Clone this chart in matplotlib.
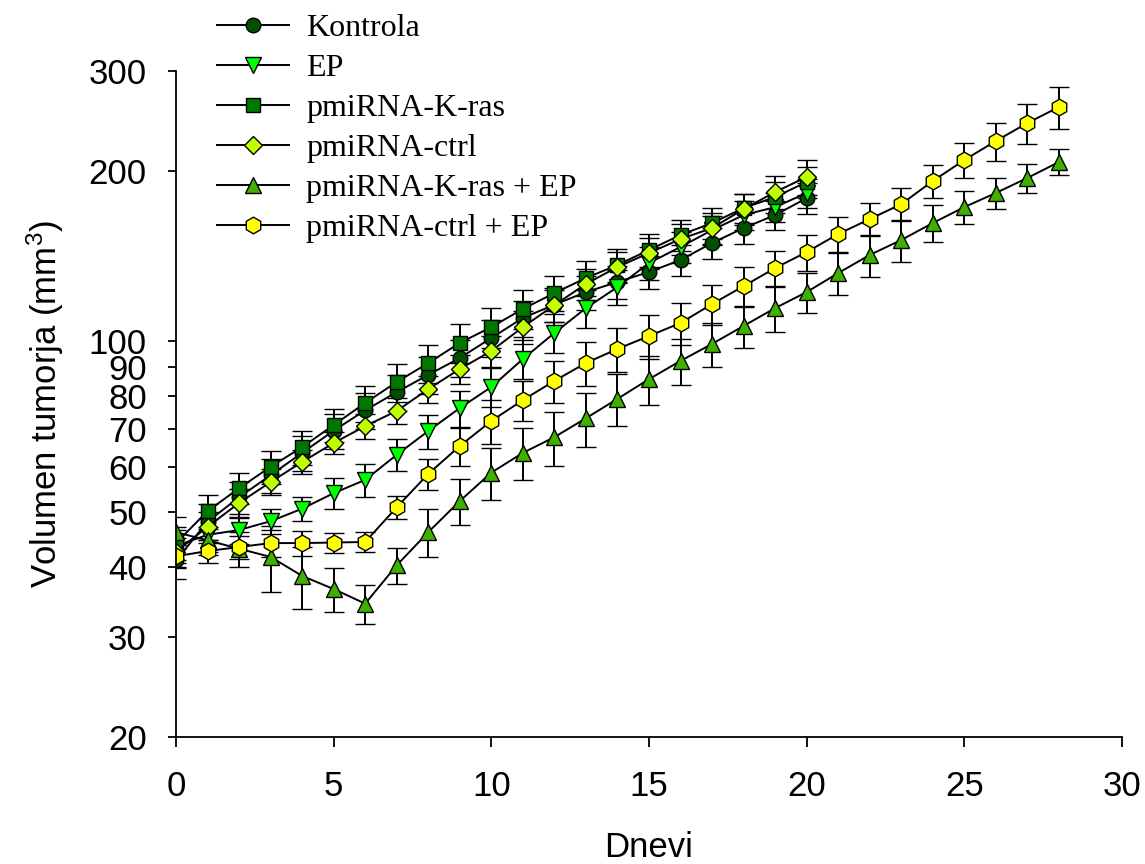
import matplotlib
matplotlib.use("Agg")
import matplotlib.pyplot as plt
from matplotlib.lines import Line2D
from matplotlib.ticker import FixedLocator, FixedFormatter, NullLocator

plt.rcParams["mathtext.fontset"] = "custom"
plt.rcParams["mathtext.rm"] = "Liberation Sans"
plt.rcParams["mathtext.it"] = "Liberation Sans"

days20 = list(range(0, 21))
days28 = list(range(0, 29))

kontrola = [41.0, 48.0, 53.0, 58.0, 63.5, 69.5, 75.5, 81.3, 87.2, 93.4, 101.3,
            109.9, 116.0, 122.1, 127.2, 132.5, 139.1, 149.1, 158.4, 167.0, 178.9]
kontrola_err = [3.0, 3.5, 3.5, 4.0, 4.5, 5.0, 5.5, 6.0, 6.5, 7.0, 7.5,
                8.0, 8.0, 8.5, 8.5, 9.0, 9.0, 9.5, 10.0, 10.0, 11.0]

ep = [43.5, 45.5, 46.4, 48.1, 50.6, 53.9, 56.9, 63.0, 69.4, 76.2, 83.0,
      93.0, 103.4, 114.4, 124.6, 137.4, 146.7, 157.1, 167.0, 172.5, 182.7]
ep_err = [3.0, 3.0, 2.5, 2.5, 2.5, 3.4, 3.9, 4.1, 4.8, 5.6, 6.5,
          7.4, 8.2, 8.8, 8.8, 9.0, 9.5, 9.5, 10.0, 10.0, 11.0]

kras = [44.0, 50.1, 55.0, 60.0, 65.0, 71.1, 77.8, 84.7, 91.5, 99.3, 105.9,
        114.0, 121.6, 129.3, 136.3, 144.9, 154.0, 161.7, 171.8, 179.7, 191.0]
kras_err = [3.0, 3.5, 3.5, 4.0, 4.5, 4.8, 5.7, 6.5, 7.1, 7.8, 8.6,
            8.9, 8.7, 9.0, 9.0, 9.5, 9.5, 10.0, 10.0, 11.0, 12.0]

ctrl = [42.5, 47.0, 51.8, 56.4, 61.2, 66.1, 70.8, 75.3, 82.3, 89.3, 96.1,
        105.9, 115.8, 126.2, 135.2, 143.1, 151.5, 158.4, 171.1, 183.4, 195.0]
ctrl_err = [2.5, 3.0, 3.0, 3.0, 3.0, 3.0, 3.7, 4.0, 4.4, 5.2, 6.0,
            7.0, 7.5, 8.0, 8.5, 9.0, 9.5, 10.0, 11.0, 12.0, 14.0]

kras_ep = [46.0, 44.5, 43.0, 41.6, 38.5, 36.5, 34.4, 40.2, 46.0, 52.2, 58.6,
           63.5, 67.7, 73.1, 79.1, 85.7, 92.3, 98.9, 106.4, 114.4, 122.1,
           131.9, 142.0, 150.9, 161.7, 172.5, 182.7, 194.2, 207.2]
kras_ep_err = [3.0, 2.5, 3.0, 5.5, 4.8, 3.3, 2.7, 3.0, 4.5, 4.9, 6.2,
               6.7, 7.4, 8.0, 8.4, 8.4, 8.6, 8.7, 9.2, 10.5, 9.9,
               11.3, 12.1, 12.9, 12.3, 11.5, 11.4, 11.4, 11.0]

ctrl_ep = [41.7, 42.6, 43.3, 44.0, 44.0, 44.1, 44.2, 50.9, 58.3, 65.3, 72.3,
           78.7, 85.1, 91.5, 96.9, 102.1, 107.7, 116.3, 125.1, 134.6, 143.7,
           154.6, 164.3, 174.6, 191.8, 208.9, 225.7, 242.8, 259.1]
ctrl_ep_err = [2.0, 2.0, 2.0, 2.5, 2.2, 1.8, 1.8, 2.3, 3.6, 5.0, 6.5,
               6.4, 7.3, 8.1, 8.5, 9.0, 9.1, 9.4, 10.0, 9.6, 10.5,
               11.0, 11.1, 11.9, 13.0, 15.1, 17.3, 19.7, 22.0]

labels = ["Kontrola", "EP", "pmiRNA-K-ras", "pmiRNA-ctrl",
          "pmiRNA-K-ras + EP", "pmiRNA-ctrl + EP"]
xticks = [0, 5, 10, 15, 20, 25, 30]
yticks = [20, 30, 40, 50, 60, 70, 80, 90, 100, 200, 300]

series = [
    (days20, kontrola, kontrola_err, "o", "#005000", 10.5),
    (days20, ep, ep_err, "v", "#00ff00", 11.5),
    (days20, kras, kras_err, "s", "#007800", 10),
    (days20, ctrl, ctrl_err, "D", "#c0ff00", 9.5),
    (days28, kras_ep, kras_ep_err, "^", "#40b000", 11.5),
    (days28, ctrl_ep, ctrl_ep_err, "h", "#ffff00", 12),
]

fig = plt.figure(figsize=(11.45, 8.64), dpi=100)
ax = fig.add_axes([176 / 1145, 1 - 737 / 864, (1122 - 176) / 1145, (737 - 71) / 864])

handles = []
for (x, y, e, m, c, ms), lab in zip(series, labels):
    ax.errorbar(x, y, yerr=e, fmt="-" + m, color="black", ecolor="black",
                elinewidth=1.4, capsize=7.5, capthick=1.4, lw=1.4,
                marker=m, markersize=ms, markerfacecolor=c,
                markeredgecolor="black", markeredgewidth=1.0)
    handles.append(Line2D([], [], color="black", lw=1.4, marker=m,
                          markersize=ms, markerfacecolor=c,
                          markeredgecolor="black", markeredgewidth=1.0))

ax.set_yscale("log")
ax.set_ylim(20, 300)
ax.set_xlim(0, 30)
ax.yaxis.set_major_locator(FixedLocator(yticks))
ax.yaxis.set_major_formatter(FixedFormatter([str(t) for t in yticks]))
ax.yaxis.set_minor_locator(NullLocator())
ax.set_xticks(xticks)
ax.set_xticklabels([str(t) for t in xticks])

for s in ["top", "right"]:
    ax.spines[s].set_visible(False)
for s in ["left", "bottom"]:
    ax.spines[s].set_linewidth(1.3)

ax.tick_params(axis="both", direction="out", width=1.3, labelsize=25)
ax.tick_params(axis="y", length=6, pad=15)
ax.tick_params(axis="x", length=7, pad=17)
for t in ax.get_xticklabels() + ax.get_yticklabels():
    t.set_fontfamily("Liberation Sans")

ax.set_xlabel("Dnevi", fontsize=25, fontfamily="Liberation Sans", labelpad=20)
ax.set_ylabel("Volumen tumorja (mm$^3$)", fontsize=25,
              fontfamily="Liberation Sans", labelpad=16)

leg = fig.legend(handles=handles, labels=labels, loc="upper left",
                 bbox_to_anchor=(217 / 1145, 1 - 14 / 864), frameon=False,
                 prop={"family": "Liberation Serif", "size": 23},
                 handlelength=2.25, labelspacing=0.33, handletextpad=0.55,
                 borderaxespad=0, borderpad=0)

fig.savefig("out.png", dpi=100)
